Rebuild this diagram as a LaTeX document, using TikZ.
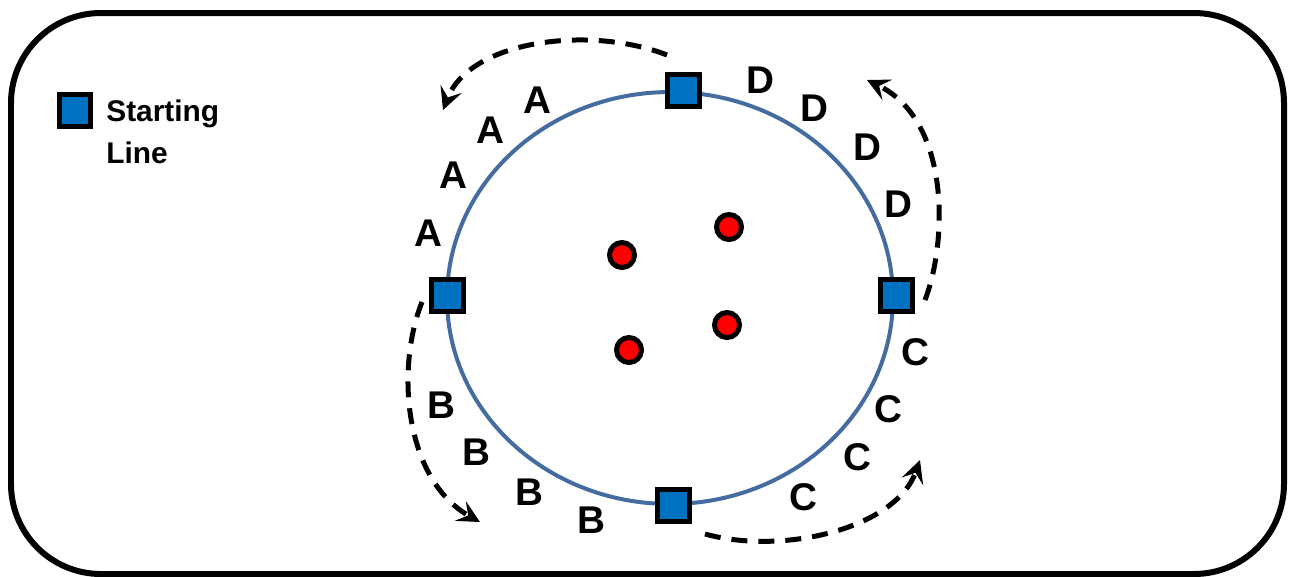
\documentclass[tikz,border=0pt]{standalone}
\usepackage{fontspec}
\setmainfont{Liberation Sans}
\usepackage{xcolor}
\usetikzlibrary{arrows.meta}

\definecolor{trackblue}{RGB}{68,108,160}
\definecolor{boxblue}{RGB}{0,112,192}

\begin{document}
\begin{tikzpicture}[
  x=0.02cm, y=-0.02cm,
  startbox/.style={draw, line width=0.1cm, fill=boxblue, minimum size=0.64cm, inner sep=0pt},
  ball/.style={circle, draw, line width=0.1cm, fill=red, minimum size=0.5cm, inner sep=0pt},
  lane/.style={font=\bfseries\fontsize{22}{26}\selectfont, inner sep=0pt},
  lap/.style={->, line width=0.1cm, dash pattern=on 0.32cm off 0.22cm},
  >={Stealth[length=0.45cm, width=0.45cm, inset=0.18cm]}
]
\useasboundingbox (0,0) rectangle (1292,576);

% Frame
\draw[line width=0.12cm, rounded corners=1.8cm] (11,13) rectangle (1284,574);

% Legend
\node[startbox] (leg) at (75,110) {};
\node[anchor=north west, align=left, inner sep=0pt, font=\bfseries\fontsize{17}{24.4}\selectfont] (legtxt) at (106,99) {Starting\\Line};

% Track
\draw[trackblue, line width=0.08cm] (670,298) ellipse [x radius=4.46cm, y radius=4.12cm];

% Starting lines
\node[startbox] (top) at (683,90) {};
\node[startbox] (left) at (447,295) {};
\node[startbox] (bottom) at (673,505) {};
\node[startbox] (right) at (896,295) {};

% Balls
\node[ball] (b1) at (622,255) {};
\node[ball] (b2) at (729,227) {};
\node[ball] (b3) at (727,325) {};
\node[ball] (b4) at (629,350) {};

% Lanes
\node[lane] (a1) at (537,100) {A};
\node[lane] (a2) at (490,130) {A};
\node[lane] (a3) at (453,175) {A};
\node[lane] (a4) at (428,233) {A};

\node[lane] (d1) at (760,80) {D};
\node[lane] (d2) at (814,108) {D};
\node[lane] (d3) at (867,147) {D};
\node[lane] (d4) at (898,204) {D};

\node[lane] (bb1) at (441,405) {B};
\node[lane] (bb2) at (476,452) {B};
\node[lane] (bb3) at (529,492) {B};
\node[lane] (bb4) at (591,520) {B};

\node[lane] (c1) at (915,352) {C};
\node[lane] (c2) at (888,409) {C};
\node[lane] (c3) at (857,457) {C};
\node[lane] (c4) at (803,497) {C};

% Direction arrows
\coordinate (aFrom) at (667,55);
\coordinate (aTo) at (443,110);
\coordinate (dFrom) at (925,300);
\coordinate (dTo) at (867,80);
\coordinate (bFrom) at (422,302);
\coordinate (bTo) at (480,522);
\coordinate (cFrom) at (705,534);
\coordinate (cTo) at (920,460);

\draw[lap] (aFrom) .. controls (590,25) and (470,40) .. (aTo);
\draw[lap] (dFrom) .. controls (948,240) and (950,120) .. (dTo);
\draw[lap] (bFrom) .. controls (395,370) and (405,480) .. (bTo);
\draw[lap] (cFrom) .. controls (780,555) and (895,530) .. (cTo);

\end{tikzpicture}
\end{document}
